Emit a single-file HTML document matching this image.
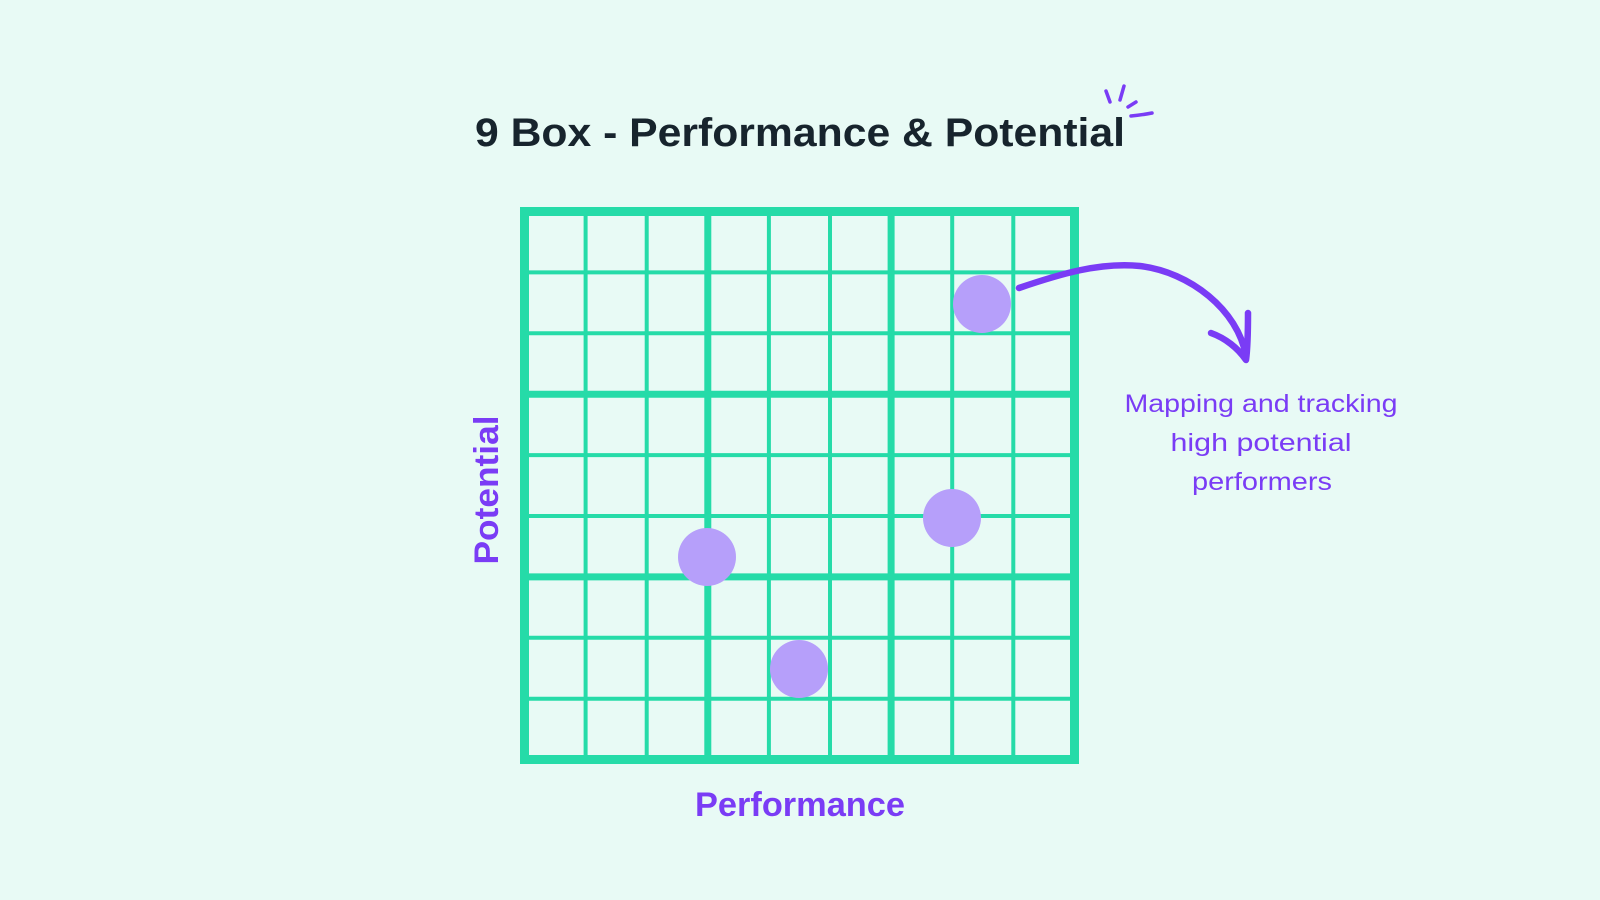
<!DOCTYPE html>
<html><head><meta charset="utf-8"><style>html,body{margin:0;padding:0;background:#e8faf5;}svg{display:block}</style></head>
<body>
<svg width="1600" height="900" viewBox="0 0 1600 900" xmlns="http://www.w3.org/2000/svg">
<rect width="1600" height="900" fill="#e8faf5"/>
<text x="800" y="146" text-anchor="middle" font-family="Liberation Sans, sans-serif" font-weight="bold" font-size="40" fill="#17242d" textLength="650" lengthAdjust="spacingAndGlyphs">9 Box - Performance &amp; Potential</text>
<g stroke="#7a3cf5" stroke-width="3.5" stroke-linecap="round" fill="none">
<path d="M1106 91 L1110 102"/><path d="M1124 86 L1120 100"/><path d="M1136 102 L1128 107"/><path d="M1131 116 Q1142 115 1152 113"/>
</g>
<g stroke="#25dba8" fill="none">
<g stroke-width="4">
<line x1="585.6" y1="207" x2="585.6" y2="764"/><line x1="646.7" y1="207" x2="646.7" y2="764"/>
<line x1="768.9" y1="207" x2="768.9" y2="764"/><line x1="830" y1="207" x2="830" y2="764"/>
<line x1="952.2" y1="207" x2="952.2" y2="764"/><line x1="1013.3" y1="207" x2="1013.3" y2="764"/>
<line x1="520" y1="272.4" x2="1079" y2="272.4"/><line x1="520" y1="333.3" x2="1079" y2="333.3"/>
<line x1="520" y1="455.1" x2="1079" y2="455.1"/><line x1="520" y1="516" x2="1079" y2="516"/>
<line x1="520" y1="637.8" x2="1079" y2="637.8"/><line x1="520" y1="698.7" x2="1079" y2="698.7"/>
</g>
<g stroke-width="7">
<line x1="707.8" y1="207" x2="707.8" y2="764"/><line x1="891.1" y1="207" x2="891.1" y2="764"/>
<line x1="520" y1="394.2" x2="1079" y2="394.2"/><line x1="520" y1="576.9" x2="1079" y2="576.9"/>
</g>
<rect x="524.5" y="211.5" width="550" height="548" stroke-width="9"/>
</g>
<g fill="#b69ffa">
<circle cx="982" cy="304" r="29"/><circle cx="952" cy="518" r="29"/>
<circle cx="707" cy="557" r="29"/><circle cx="799" cy="669" r="29"/>
</g>
<g stroke="#7a3cf5" stroke-width="6.5" stroke-linecap="round" stroke-linejoin="round" fill="none">
<path d="M1019 288 C1060 274 1100 262 1140 266 C1190 272 1238 310 1246 356"/>
<path d="M1211 333 C1225 338 1238 348 1246 360 C1248 345 1248 328 1248 313"/>
</g>
<text transform="translate(498,490) rotate(-90)" text-anchor="middle" font-family="Liberation Sans, sans-serif" font-weight="bold" font-size="34" fill="#7a3cf5" textLength="149" lengthAdjust="spacingAndGlyphs">Potential</text>
<text x="800" y="816" text-anchor="middle" font-family="Liberation Sans, sans-serif" font-weight="bold" font-size="34" fill="#7a3cf5" textLength="210" lengthAdjust="spacingAndGlyphs">Performance</text>
<g font-family="Liberation Sans, sans-serif" font-size="25" fill="#7a3cf5" text-anchor="middle">
<text x="1261" y="412" textLength="273" lengthAdjust="spacingAndGlyphs">Mapping and tracking</text>
<text x="1261" y="451" textLength="181" lengthAdjust="spacingAndGlyphs">high potential</text>
<text x="1262" y="490" textLength="140" lengthAdjust="spacingAndGlyphs">performers</text>
</g>
</svg>
</body></html>
